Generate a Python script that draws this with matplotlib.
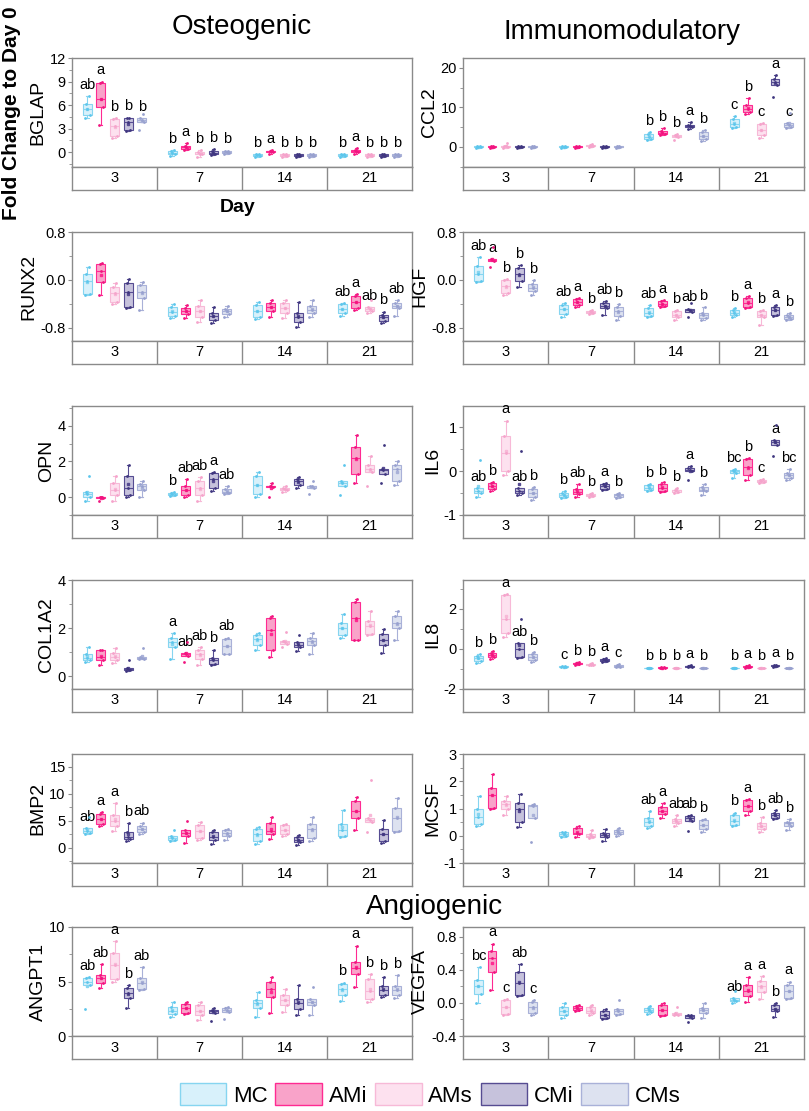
import numpy as np
import matplotlib
matplotlib.use("Agg")
import matplotlib.pyplot as plt
from matplotlib.patches import Patch
from matplotlib.ticker import MultipleLocator

plt.rcParams['font.family'] = ['Liberation Sans', 'DejaVu Sans']

DAYS = ["3", "7", "14", "21"]
GROUPS = ["MC", "AMi", "AMs", "CMi", "CMs"]

# each gene: 4 days x 5 groups x 5 replicate values
BGLAP = [
    [[4.4, 4.7, 5.5, 6.1, 7.1], [3.4, 5.7, 6.8, 8.8, 9.0], [1.8, 2.1, 3.3, 4.2, 4.3], [2.7, 2.8, 3.8, 4.3, 4.4], [2.8, 3.9, 4.1, 4.3, 4.9]],
    [[-0.5, -0.3, -0.1, 0.1, 0.3], [0.3, 0.4, 0.6, 0.8, 1.2], [-0.6, -0.3, -0.2, 0.0, 0.3], [-0.4, -0.2, -0.1, 0.1, 0.4], [-0.2, -0.1, 0.0, 0.1, 0.2]],
    [[-0.6, -0.5, -0.4, -0.3, -0.2], [-0.2, 0.0, 0.1, 0.2, 0.3], [-0.6, -0.5, -0.4, -0.3, -0.2], [-0.6, -0.5, -0.4, -0.3, -0.2], [-0.6, -0.5, -0.4, -0.3, -0.2]],
    [[-0.6, -0.5, -0.4, -0.3, -0.2], [-0.3, 0.0, 0.2, 0.3, 0.5], [-0.6, -0.5, -0.4, -0.3, -0.2], [-0.6, -0.5, -0.4, -0.3, -0.2], [-0.6, -0.5, -0.4, -0.3, -0.2]],
]
BGLAP_SIG = ["ab a b b b", "b a b b b", "b a b b b", "b a b b b"]

RUNX2 = [
    [[-0.25, -0.23, -0.02, 0.1, 0.22], [-0.25, -0.03, 0.15, 0.26, 0.29], [-0.4, -0.37, -0.22, -0.12, -0.05], [-0.47, -0.46, -0.2, -0.05, 0.02], [-0.5, -0.3, -0.2, -0.08, -0.04]],
    [[-0.63, -0.6, -0.53, -0.46, -0.4], [-0.63, -0.57, -0.52, -0.47, -0.42], [-0.7, -0.62, -0.52, -0.43, -0.33], [-0.72, -0.67, -0.6, -0.55, -0.45], [-0.62, -0.57, -0.52, -0.48, -0.44]],
    [[-0.65, -0.62, -0.52, -0.42, -0.37], [-0.62, -0.52, -0.45, -0.38, -0.33], [-0.63, -0.55, -0.47, -0.38, -0.34], [-0.78, -0.7, -0.62, -0.56, -0.37], [-0.62, -0.55, -0.5, -0.43, -0.33]],
    [[-0.6, -0.55, -0.48, -0.4, -0.38], [-0.5, -0.47, -0.37, -0.27, -0.23], [-0.55, -0.52, -0.48, -0.45, -0.33], [-0.72, -0.68, -0.62, -0.58, -0.53], [-0.6, -0.47, -0.43, -0.38, -0.33]],
]
RUNX2_SIG = ["", "", "", "ab a ab b ab"]

OPN = [
    [[-0.2, 0.0, 0.15, 0.3, 1.2], [-0.2, -0.05, 0.0, 0.0, 0.0], [-0.2, 0.1, 0.4, 0.8, 1.2], [0.0, 0.1, 0.5, 1.2, 1.8], [0.0, 0.4, 0.6, 0.75, 0.9]],
    [[0.05, 0.1, 0.15, 0.25, 0.3], [0.0, 0.1, 0.4, 0.6, 1.0], [-0.2, 0.1, 0.5, 0.9, 1.1], [0.35, 0.5, 1.0, 1.35, 1.4], [0.2, 0.25, 0.3, 0.45, 0.6]],
    [[0.0, 0.2, 0.7, 1.2, 1.4], [0.0, 0.55, 0.6, 0.65, 0.8], [0.3, 0.4, 0.45, 0.5, 0.6], [0.5, 0.7, 0.9, 1.0, 1.1], [0.2, 0.5, 0.6, 0.65, 0.9]],
    [[0.1, 0.65, 0.8, 0.9, 1.8], [0.8, 1.3, 2.2, 2.8, 3.5], [0.6, 1.4, 1.6, 1.8, 2.3], [0.8, 1.3, 1.5, 1.6, 2.9], [0.7, 0.9, 1.6, 1.8, 2.0]],
]
OPN_SIG = ["", "b ab ab a ab", "", ""]

COL1A2 = [
    [[0.6, 0.65, 0.75, 0.9, 1.2], [0.45, 0.65, 0.8, 1.1, 1.1], [0.55, 0.65, 0.8, 0.95, 1.15], [0.2, 0.25, 0.3, 0.35, 0.65], [0.7, 0.72, 0.75, 0.8, 1.15]],
    [[0.7, 1.2, 1.4, 1.6, 1.8], [0.6, 0.85, 0.9, 0.95, 1.4], [0.45, 0.7, 0.9, 1.1, 1.2], [0.45, 0.5, 0.65, 0.75, 1.1], [0.9, 0.9, 1.25, 1.55, 1.6]],
    [[1.1, 1.3, 1.55, 1.7, 1.8], [0.8, 1.1, 1.9, 2.4, 2.5], [1.2, 1.35, 1.4, 1.45, 1.85], [1.05, 1.2, 1.3, 1.4, 1.7], [0.9, 1.3, 1.45, 1.6, 1.8]],
    [[1.6, 1.7, 2.0, 2.2, 2.6], [1.5, 1.5, 2.4, 3.1, 3.2], [1.7, 1.75, 2.1, 2.3, 2.7], [0.95, 1.3, 1.5, 1.75, 1.95], [1.5, 2.0, 2.2, 2.5, 2.7]],
]
COL1A2_SIG = ["", "a ab ab b ab", "", ""]

BMP2 = [
    [[2.6, 2.7, 3.1, 3.6, 5.7], [4.0, 4.4, 5.3, 6.2, 6.6], [3.1, 4.0, 4.9, 6.1, 8.3], [1.3, 1.6, 2.1, 2.9, 4.6], [2.6, 3.0, 3.5, 4.1, 4.7]],
    [[1.2, 1.5, 1.8, 2.2, 3.4], [0.9, 2.2, 2.7, 3.3, 5.0], [1.5, 1.8, 3.2, 4.3, 4.8], [0.8, 1.5, 2.1, 2.9, 3.3], [1.5, 2.2, 2.7, 3.4, 3.5]],
    [[0.7, 1.2, 2.5, 3.5, 3.8], [1.6, 2.6, 3.2, 4.7, 5.8], [2.2, 2.6, 3.3, 4.2, 4.5], [0.5, 1.0, 1.5, 2.0, 2.3], [1.3, 1.8, 3.5, 4.5, 5.8]],
    [[2.1, 2.2, 3.3, 4.5, 7.1], [3.4, 5.6, 6.8, 8.7, 9.5], [2.9, 4.8, 5.1, 5.5, 12.5], [0.9, 1.2, 2.5, 3.5, 5.2], [3.0, 3.2, 5.5, 7.3, 9.2]],
]
BMP2_SIG = ["ab a a b ab", "", "", ""]

CCL2 = [
    [[-0.2, -0.1, 0.0, 0.1, 0.2], [-0.2, -0.1, 0.0, 0.1, 0.2], [-0.2, 0.0, 0.1, 0.3, 0.9], [-0.2, -0.1, 0.0, 0.1, 0.2], [-0.2, -0.1, 0.0, 0.1, 0.2]],
    [[-0.2, -0.1, 0.0, 0.1, 0.2], [-0.2, -0.1, 0.0, 0.1, 0.2], [0.0, 0.1, 0.2, 0.4, 0.6], [-0.2, -0.1, 0.0, 0.1, 0.2], [-0.2, -0.1, 0.0, 0.1, 0.2]],
    [[1.8, 2.0, 2.6, 3.3, 3.7], [3.0, 3.2, 3.6, 4.0, 4.8], [1.8, 2.6, 2.8, 3.0, 3.2], [4.4, 5.0, 5.3, 5.6, 6.3], [1.5, 2.0, 2.8, 3.8, 4.2]],
    [[4.7, 5.0, 5.8, 7.0, 7.8], [8.3, 8.8, 9.7, 10.5, 12.4], [2.2, 3.0, 4.3, 5.8, 6.1], [12.7, 15.7, 16.5, 17.3, 18.2], [4.9, 5.1, 5.5, 6.0, 8.6]],
]
CCL2_SIG = ["", "", "b b b a b", "c b c a c"]

HGF = [
    [[-0.04, -0.02, 0.1, 0.23, 0.38], [0.22, 0.32, 0.34, 0.35, 0.55], [-0.25, -0.22, -0.1, 0.0, 0.02], [-0.12, -0.02, 0.1, 0.2, 0.25], [-0.25, -0.18, -0.13, -0.07, 0.0]],
    [[-0.62, -0.57, -0.48, -0.42, -0.38], [-0.45, -0.42, -0.37, -0.32, -0.3], [-0.57, -0.55, -0.53, -0.52, -0.5], [-0.58, -0.47, -0.43, -0.38, -0.35], [-0.67, -0.6, -0.52, -0.45, -0.4]],
    [[-0.62, -0.6, -0.55, -0.47, -0.42], [-0.45, -0.43, -0.4, -0.36, -0.33], [-0.67, -0.62, -0.58, -0.52, -0.5], [-0.62, -0.53, -0.5, -0.48, -0.38], [-0.67, -0.63, -0.58, -0.55, -0.45]],
    [[-0.62, -0.58, -0.55, -0.5, -0.47], [-0.47, -0.45, -0.38, -0.3, -0.27], [-0.75, -0.62, -0.58, -0.52, -0.5], [-0.6, -0.58, -0.5, -0.45, -0.42], [-0.67, -0.65, -0.62, -0.58, -0.56]],
]
HGF_SIG = ["ab a b b b", "ab a b ab b", "ab a b ab b", "b a b a b"]

IL6 = [
    [[-0.6, -0.5, -0.45, -0.38, 0.25], [-0.45, -0.4, -0.33, -0.28, -0.25], [-0.1, 0.0, 0.4, 0.8, 1.15], [-0.55, -0.5, -0.45, -0.38, 0.45], [-0.65, -0.6, -0.5, -0.4, -0.37]],
    [[-0.62, -0.58, -0.55, -0.5, -0.45], [-0.58, -0.52, -0.47, -0.4, -0.3], [-0.6, -0.57, -0.55, -0.52, -0.5], [-0.42, -0.4, -0.35, -0.3, -0.27], [-0.62, -0.58, -0.55, -0.52, -0.5]],
    [[-0.45, -0.42, -0.38, -0.32, -0.3], [-0.48, -0.45, -0.38, -0.3, -0.25], [-0.5, -0.47, -0.44, -0.42, -0.38], [-0.2, 0.0, 0.03, 0.07, 0.12], [-0.55, -0.45, -0.42, -0.37, -0.3]],
    [[-0.15, -0.05, 0.0, 0.03, 0.05], [-0.2, -0.08, 0.1, 0.28, 0.3], [-0.27, -0.25, -0.22, -0.2, -0.18], [0.35, 0.6, 0.65, 0.7, 1.05], [-0.2, -0.15, -0.1, -0.05, 0.05]],
]
IL6_SIG = ["ab b a ab b", "b ab b a b", "b b b a b", "bc b c a bc"]

IL8 = [
    [[-0.7, -0.6, -0.45, -0.35, -0.25], [-0.5, -0.4, -0.3, -0.2, -0.1], [0.6, 0.8, 1.5, 2.7, 2.75], [-0.45, -0.4, 0.0, 0.3, 1.5], [-0.65, -0.55, -0.4, -0.25, -0.15]],
    [[-0.92, -0.9, -0.88, -0.86, -0.85], [-0.8, -0.77, -0.72, -0.68, -0.65], [-0.82, -0.8, -0.78, -0.75, -0.72], [-0.65, -0.6, -0.55, -0.48, -0.45], [-0.9, -0.88, -0.85, -0.8, -0.75]],
    [[-0.97, -0.96, -0.95, -0.94, -0.93], [-0.97, -0.96, -0.94, -0.92, -0.9], [-0.97, -0.96, -0.95, -0.94, -0.93], [-0.9, -0.88, -0.86, -0.84, -0.82], [-0.97, -0.96, -0.95, -0.94, -0.93]],
    [[-0.97, -0.96, -0.95, -0.94, -0.93], [-0.95, -0.92, -0.88, -0.85, -0.82], [-0.97, -0.96, -0.95, -0.94, -0.93], [-0.9, -0.87, -0.84, -0.8, -0.78], [-0.97, -0.96, -0.95, -0.94, -0.93]],
]
IL8_SIG = ["b b a ab b", "c b b a c", "b b b a b", "b a b a b"]

MCSF = [
    [[0.37, 0.43, 0.7, 1.0, 1.46], [1.0, 1.02, 1.5, 1.76, 2.27], [0.75, 0.98, 1.15, 1.28, 1.45], [0.33, 0.51, 1.0, 1.22, 1.52], [-0.22, 0.66, 1.1, 1.14, 1.16]],
    [[-0.05, 0.0, 0.05, 0.12, 0.15], [-0.05, 0.05, 0.1, 0.28, 0.35], [-0.1, -0.05, 0.0, 0.05, 0.2], [-0.2, -0.05, 0.03, 0.1, 0.25], [0.0, 0.07, 0.12, 0.2, 0.3]],
    [[0.27, 0.35, 0.5, 0.65, 0.9], [0.65, 0.8, 0.92, 1.05, 1.2], [0.35, 0.45, 0.55, 0.62, 0.75], [0.18, 0.55, 0.65, 0.72, 0.77], [0.15, 0.25, 0.4, 0.58, 0.62]],
    [[0.37, 0.4, 0.55, 0.75, 0.85], [0.75, 0.9, 1.1, 1.32, 1.35], [0.12, 0.25, 0.35, 0.45, 0.7], [0.6, 0.65, 0.75, 0.85, 0.95], [0.2, 0.35, 0.45, 0.5, 0.62]],
]
MCSF_SIG = ["", "", "ab a ab ab b", "b a b ab b"]

ANGPT1 = [
    [[2.5, 4.7, 5.0, 5.3, 5.4], [4.4, 4.9, 5.3, 5.6, 6.6], [5.0, 5.2, 6.5, 7.6, 8.7], [2.6, 3.5, 3.9, 4.4, 4.7], [4.2, 4.3, 4.9, 5.3, 6.3]],
    [[1.7, 2.0, 2.3, 2.7, 3.1], [2.0, 2.1, 2.6, 2.9, 3.1], [1.5, 1.9, 2.3, 2.8, 3.1], [1.4, 2.1, 2.3, 2.4, 2.6], [1.6, 2.2, 2.4, 2.6, 2.7]],
    [[1.7, 2.6, 3.0, 3.3, 4.0], [2.1, 3.6, 4.3, 5.0, 5.4], [2.2, 2.8, 3.3, 3.8, 4.3], [1.9, 2.5, 3.0, 3.4, 4.7], [1.9, 2.8, 3.1, 3.4, 4.5]],
    [[3.2, 3.8, 4.3, 4.8, 4.9], [4.5, 5.7, 6.2, 6.8, 8.3], [3.1, 3.4, 4.1, 5.2, 5.7], [3.6, 3.8, 4.2, 4.6, 5.4], [3.5, 3.8, 4.2, 4.6, 5.6]],
]
ANGPT1_SIG = ["ab ab a b ab", "", "", "b a b b b"]

VEGFA = [
    [[0.0, 0.11, 0.2, 0.28, 0.43], [0.16, 0.37, 0.55, 0.63, 0.72], [-0.15, -0.13, -0.05, 0.03, 0.05], [0.08, 0.1, 0.24, 0.38, 0.47], [-0.15, -0.12, -0.05, 0.01, 0.03]],
    [[-0.18, -0.15, -0.1, -0.05, 0.0], [-0.1, -0.08, -0.06, -0.04, -0.03], [-0.15, -0.12, -0.1, -0.05, -0.02], [-0.2, -0.18, -0.15, -0.1, -0.07], [-0.15, -0.13, -0.1, -0.07, 0.03]],
    [[-0.13, -0.11, -0.09, -0.06, -0.04], [-0.16, -0.14, -0.08, -0.02, 0.0], [-0.15, -0.14, -0.13, -0.12, -0.05], [-0.23, -0.18, -0.16, -0.15, -0.14], [-0.18, -0.12, -0.09, -0.06, 0.0]],
    [[0.0, 0.02, 0.04, 0.06, 0.14], [0.01, 0.09, 0.15, 0.22, 0.31], [0.05, 0.13, 0.2, 0.27, 0.33], [-0.17, -0.1, -0.07, -0.03, 0.0], [0.05, 0.06, 0.14, 0.22, 0.26]],
]
VEGFA_SIG = ["bc a c ab c", "", "", "ab a a b a"]

EDGE = ['#86d5f0', '#ff2a92', '#f7b9d7', '#564c92', '#a9b1d8']
FILL = ['#d8f1fb', '#f9a3c9', '#fde1ef', '#c6c2dc', '#dde2f0']
POINT = ['#5cc6ec', '#f0157f', '#f5a3cb', '#3f367f', '#98a1cf']
SPINE = '#8a8a8a'

W, H = 809, 1111
PANEL_H, STRIP_H = 109, 23
COL_X = [(72, 340), (463, 341)]
ROW_TOP = [58, 232, 406, 580, 754, 927]
OFFSET = 0.16
BOX_W = 0.105
JIT = np.array([-0.25, 0.25, 0.0, -0.15, 0.15])

# gene, data, letters, ylim, major, minor, column, row
panels = [
    ("BGLAP", BGLAP, BGLAP_SIG, (-1.9, 12), 3, 1.5, 0, 0),
    ("RUNX2", RUNX2, RUNX2_SIG, (-1.02, 0.8), 0.8, 0.4, 0, 1),
    ("OPN", OPN, OPN_SIG, (-1.0, 5.1), 2, 1, 0, 2),
    ("COL1A2", COL1A2, COL1A2_SIG, (-0.54, 4), 2, 1, 0, 3),
    ("BMP2", BMP2, BMP2_SIG, (-2.8, 17.4), 5, 2.5, 0, 4),
    ("ANGPT1", ANGPT1, ANGPT1_SIG, (0, 10), 5, 2.5, 0, 5),
    ("CCL2", CCL2, CCL2_SIG, (-5.1, 22.5), 10, 5, 1, 0),
    ("HGF", HGF, HGF_SIG, (-1.02, 0.8), 0.8, 0.4, 1, 1),
    ("IL6", IL6, IL6_SIG, (-1.0, 1.48), 1, 0.5, 1, 2),
    ("IL8", IL8, IL8_SIG, (-2, 3.45), 2, 1, 1, 3),
    ("MCSF", MCSF, MCSF_SIG, (-1, 3), 1, 0.5, 1, 4),
    ("VEGFA", VEGFA, VEGFA_SIG, (-0.4, 0.92), 0.4, 0.2, 1, 5),
]

fig = plt.figure(figsize=(W / 100, H / 100), dpi=100)


def fmt_tick(v, step):
    if step < 1:
        return f"{v:.1f}"
    return f"{v:g}"


for gene, data, sig, ylim, major, minor, col, row in panels:
    x0, w = COL_X[col]
    top = ROW_TOP[row]
    ax = fig.add_axes([x0 / W, 1 - (top + PANEL_H) / H, w / W, PANEL_H / H])
    sax = fig.add_axes([x0 / W, 1 - (top + PANEL_H + STRIP_H) / H, w / W, STRIP_H / H])

    days = np.arange(len(DAYS))
    whisk_top = {}
    for g in range(len(GROUPS)):
        pos = days + (g - 2) * OFFSET
        vals = [np.array(data[d][g]) for d in days]
        bp = ax.boxplot(vals, positions=pos, widths=BOX_W, patch_artist=True,
                        showfliers=False, showmeans=True, manage_ticks=False,
                        capwidths=0.03)
        for b in bp['boxes']:
            b.set_facecolor(FILL[g])
            b.set_edgecolor(EDGE[g])
            b.set_linewidth(0.8)
        for key in ('whiskers', 'caps', 'medians'):
            for ln in bp[key]:
                ln.set_color(EDGE[g])
                ln.set_linewidth(0.8)
        for m in bp['means']:
            m.set_marker('s')
            m.set_markersize(2)
            m.set_markerfacecolor(EDGE[g])
            m.set_markeredgecolor(EDGE[g])
        for d in days:
            whisk_top[(d, g)] = max(bp['whiskers'][2 * d + 1].get_ydata())
            ax.scatter(pos[d] + JIT * BOX_W, vals[d], s=4, color=POINT[g],
                       lw=0, zorder=4)

    # significance letters sit above the upper whisker
    for d in days:
        for g, lt in enumerate(sig[d].split()):
            ax.annotate(lt, (d + (g - 2) * OFFSET, whisk_top[(d, g)]),
                        xytext=(0, 3), textcoords='offset points',
                        ha='center', va='bottom', fontsize=10.5)

    ax.set_xlim(-0.5, 3.5)
    ax.set_ylim(*ylim)
    ax.set_xticks([])
    ax.yaxis.set_major_locator(MultipleLocator(major))
    ax.yaxis.set_minor_locator(MultipleLocator(minor))
    ax.yaxis.set_major_formatter(plt.FuncFormatter(lambda v, p, s=major: fmt_tick(v, s)))
    ax.tick_params(axis='y', which='major', direction='out', length=3, width=0.8,
                   color=SPINE, labelsize=10.5, pad=1.5)
    ax.tick_params(axis='y', which='minor', direction='out', length=2, width=0.6,
                   color=SPINE)
    for sp in ax.spines.values():
        sp.set_color(SPINE)
        sp.set_linewidth(1)
    ax.set_ylabel(gene, fontsize=14, labelpad=2)

    sax.set_xlim(-0.5, 3.5)
    sax.set_ylim(0, 1)
    sax.set_xticks([])
    sax.set_yticks([])
    for sp in sax.spines.values():
        sp.set_color(SPINE)
        sp.set_linewidth(1)
    for b in (0.5, 1.5, 2.5):
        sax.axvline(b, color=SPINE, lw=1)
    for d, lab in enumerate(DAYS):
        sax.text(d, 0.5, lab, ha='center', va='center', fontsize=10.5)

fig.text(242 / W, 1 - 27 / H, "Osteogenic", ha='center', va='center', fontsize=20)
fig.text(622 / W, 1 - 32 / H, "Immunomodulatory", ha='center', va='center', fontsize=20)
fig.text(434 / W, 1 - 907 / H, "Angiogenic", ha='center', va='center', fontsize=20)
fig.text(238 / W, 1 - 208 / H, "Day", ha='center', va='center', fontsize=14,
         fontweight='bold')
fig.text(12 / W, 1 - 113 / H, "Fold Change to Day 0", ha='center', va='center',
         rotation=90, fontsize=15, fontweight='bold')

handles = [Patch(facecolor=FILL[g], edgecolor=EDGE[g], lw=1) for g in range(len(GROUPS))]
fig.legend(handles, GROUPS, loc='center', bbox_to_anchor=(430 / W, 1 - 1095 / H),
           ncol=5, frameon=False, fontsize=16, handlelength=2.1, handleheight=1.1,
           handletextpad=0.3, columnspacing=0.35, borderpad=0)

fig.savefig("out.png", dpi=100)
